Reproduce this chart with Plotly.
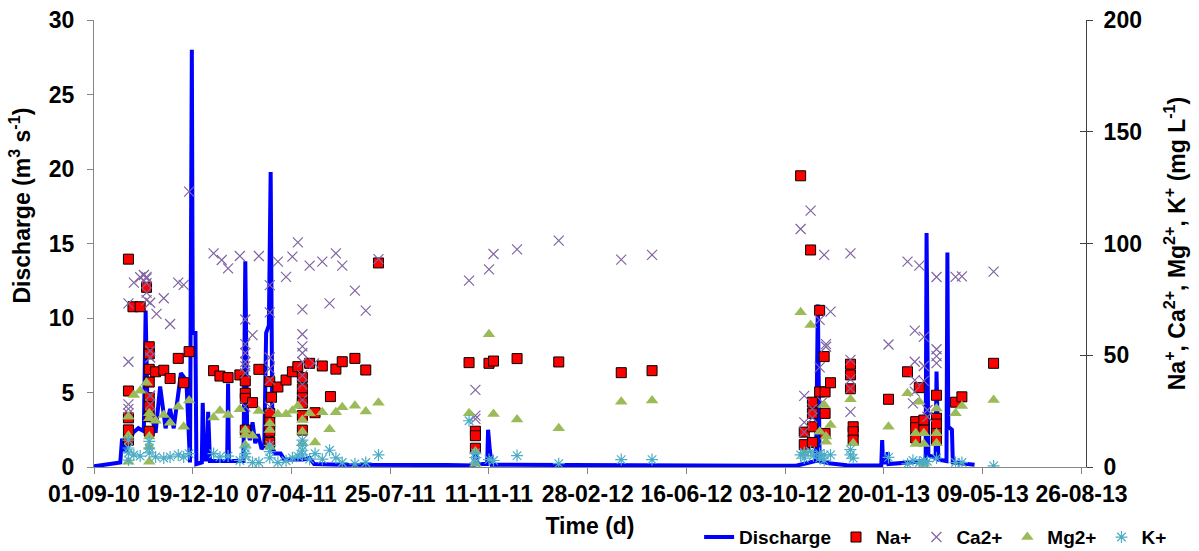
import plotly.graph_objects as go

# Daily discharge (m3/s), vertices of the hydrograph
q_dates = [
    "2010-09-01", "2010-09-30", "2010-10-02", "2010-10-06", "2010-10-10", "2010-10-14",
    "2010-10-20", "2010-10-26", "2010-10-28", "2010-10-30", "2010-11-03", "2010-11-08",
    "2010-11-13", "2010-11-19", "2010-11-24", "2010-11-28", "2010-12-06", "2010-12-12",
    "2010-12-16", "2010-12-18", "2010-12-19", "2010-12-22", "2010-12-23", "2010-12-29",
    "2010-12-30", "2011-01-01", "2011-01-04", "2011-01-05", "2011-01-07", "2011-01-26",
    "2011-01-27", "2011-01-28", "2011-02-13", "2011-02-15", "2011-02-17", "2011-02-20",
    "2011-02-23", "2011-02-26", "2011-03-01", "2011-03-05", "2011-03-08", "2011-03-10",
    "2011-03-13", "2011-03-15", "2011-03-17", "2011-03-20", "2011-03-26", "2011-03-30",
    "2011-04-20", "2011-04-27", "2011-05-02", "2011-06-01", "2011-09-25", "2011-10-26",
    "2011-10-27", "2011-10-29", "2011-11-09", "2011-11-10", "2011-11-12", "2011-11-14",
    "2012-10-15", "2012-11-06", "2012-11-08", "2012-11-10", "2012-11-20", "2012-12-10",
    "2013-01-17", "2013-01-18", "2013-01-19", "2013-01-23", "2013-01-24", "2013-01-25",
    "2013-03-07", "2013-03-08", "2013-03-10", "2013-03-18", "2013-03-19", "2013-03-21",
    "2013-03-30", "2013-03-31", "2013-04-01", "2013-04-05", "2013-04-06", "2013-04-30",
]
q_vals = [
    0.05, 0.3, 1.9, 1.0, 1.6, 2.3,
    2.6, 2.4, 10.5, 4.0, 3.6, 2.3,
    5.4, 2.6, 3.9, 2.6, 6.3, 5.8,
    0.3, 28.0, 9.0, 9.0, 0.2, 0.3,
    4.3, 0.5, 0.5, 3.7, 0.4, 0.4,
    5.6, 0.4, 0.4, 13.8, 2.6, 1.8,
    3.0, 1.6, 2.2, 1.2, 1.5, 9.0,
    9.5, 19.8, 1.2, 0.9, 0.9, 0.5,
    0.5, 0.6, 0.2, 0.15, 0.13, 0.1,
    1.3, 0.2, 0.2, 2.5, 1.1, 0.15,
    0.08, 0.4, 10.9, 0.4, 0.25, 0.12,
    0.1, 1.8, 0.3, 0.3, 1.0, 0.2,
    0.4, 15.7, 0.8, 0.6, 6.4, 0.5,
    0.4, 14.4, 2.7, 2.5, 0.3, 0.15,
]

# Sodium (mg/L)
na_dates = [
    "2010-10-09", "2010-10-09", "2010-10-09", "2010-10-09", "2010-10-09",
    "2010-10-14", "2010-10-22", "2010-10-29",
    "2010-11-01", "2010-11-01", "2010-11-01", "2010-11-01", "2010-11-01", "2010-11-01",
    "2010-11-01", "2010-11-01",
    "2010-11-08", "2010-11-17", "2010-11-24", "2010-12-03", "2010-12-09", "2010-12-15",
    "2011-01-11", "2011-01-18", "2011-01-27", "2011-02-09",
    "2011-02-15", "2011-02-15", "2011-02-15", "2011-02-15", "2011-02-23", "2011-03-02",
    "2011-03-14", "2011-03-14", "2011-03-14", "2011-03-14", "2011-03-14",
    "2011-03-16", "2011-03-23", "2011-04-01", "2011-04-08", "2011-04-14",
    "2011-04-19", "2011-04-19", "2011-04-19", "2011-04-19", "2011-04-19", "2011-04-19",
    "2011-04-27", "2011-05-03", "2011-05-11", "2011-05-20", "2011-05-26", "2011-06-02",
    "2011-06-16", "2011-06-28", "2011-07-12",
    "2011-10-20", "2011-10-27", "2011-10-27", "2011-10-27", "2011-11-11", "2011-11-16",
    "2011-12-12", "2012-01-27", "2012-04-05", "2012-05-09",
    "2012-10-20", "2012-10-24", "2012-10-24", "2012-10-31",
    "2012-11-02", "2012-11-02", "2012-11-02", "2012-11-02",
    "2012-11-10", "2012-11-10", "2012-11-15", "2012-11-16", "2012-11-16", "2012-11-16",
    "2012-11-22", "2012-12-14", "2012-12-14", "2012-12-14", "2012-12-17", "2012-12-17",
    "2012-12-17", "2013-01-25", "2013-02-15", "2013-02-24", "2013-02-24", "2013-02-24",
    "2013-02-28", "2013-03-05", "2013-03-05",
    "2013-03-19", "2013-03-19", "2013-03-19", "2013-03-19", "2013-03-19",
    "2013-04-09", "2013-04-16", "2013-05-21",
]
na_vals = [
    93, 34, 22, 16.6, 12,
    71.7, 71.7, 80.4,
    53.8, 50.6, 43.7, 38, 31, 27, 22.5, 16,
    42.6, 43.3, 39.6, 48.6, 37.7, 51.6,
    43.1, 40.7, 40.0, 41.2,
    38.5, 33, 30.7, 16.5, 28.8, 43.7,
    38.2, 24, 20, 16, 11,
    31.2, 35.8, 38.9, 42.6, 44.9,
    40, 35, 31, 28.6, 23, 16.5,
    46.4, 24.3, 45.2, 31.5, 43.8, 47.1,
    48.6, 43.4, 91.3,
    46.7, 16, 14, 8.4, 46.4, 47.4,
    48.5, 47.0, 42.2, 43.1,
    130.3, 15.6, 10, 97.1,
    29, 24, 18, 11,
    70.1, 33.6, 49.4, 33.6, 24, 15,
    37.7, 46, 41.2, 35, 18, 15.8,
    12, 30.3, 42.6, 20.3, 17.6, 13,
    35.5, 21, 16.5,
    32.1, 21.8, 19.2, 15, 12,
    29, 31.4, 46.4,
]

# Calcium (mg/L)
ca_dates = [
    "2010-10-09", "2010-10-09", "2010-10-09", "2010-10-09", "2010-10-09",
    "2010-10-15", "2010-10-22", "2010-10-26",
    "2010-10-29", "2010-10-29", "2010-10-29", "2010-10-29", "2010-10-29",
    "2010-11-02", "2010-11-02", "2010-11-02", "2010-11-02", "2010-11-02", "2010-11-02",
    "2010-11-09", "2010-11-17", "2010-11-24", "2010-12-03", "2010-12-09", "2010-12-15",
    "2011-01-11", "2011-01-20", "2011-01-27", "2011-02-09",
    "2011-02-15", "2011-02-15", "2011-02-15", "2011-02-15", "2011-02-15", "2011-02-15",
    "2011-02-15", "2011-02-23", "2011-03-02",
    "2011-03-14", "2011-03-14", "2011-03-14", "2011-03-14", "2011-03-14", "2011-03-14",
    "2011-03-23", "2011-04-01", "2011-04-08", "2011-04-14",
    "2011-04-19", "2011-04-19", "2011-04-19", "2011-04-19", "2011-04-19", "2011-04-19",
    "2011-04-19", "2011-04-19",
    "2011-04-27", "2011-05-02", "2011-05-11", "2011-05-19", "2011-05-26", "2011-06-02",
    "2011-06-16", "2011-06-28", "2011-07-12",
    "2011-10-20", "2011-10-27", "2011-10-27", "2011-10-27", "2011-11-11", "2011-11-16",
    "2011-12-12", "2012-01-27", "2012-04-05", "2012-05-09",
    "2012-10-20", "2012-10-24", "2012-10-24", "2012-10-24", "2012-10-31",
    "2012-11-02", "2012-11-02", "2012-11-10", "2012-11-10", "2012-11-13", "2012-11-15",
    "2012-11-17", "2012-11-17", "2012-11-22",
    "2012-12-14", "2012-12-14", "2012-12-14", "2012-12-14", "2012-12-14",
    "2013-01-25", "2013-02-15", "2013-02-21",
    "2013-02-23", "2013-02-23", "2013-02-23", "2013-02-23", "2013-02-28",
    "2013-03-05", "2013-03-05", "2013-03-05", "2013-03-09", "2013-03-09",
    "2013-03-19", "2013-03-19", "2013-03-19", "2013-03-19",
    "2013-04-09", "2013-04-16", "2013-05-21",
]
ca_vals = [
    73.2, 47.1, 28, 26, 24,
    82.5, 84.9, 85.9,
    85.1, 84.4, 82.2, 78, 74.7,
    73.5, 52, 49, 32, 28, 24,
    68.5, 75.5, 64, 82.5, 81.5, 123.2,
    95.6, 92.6, 88.9, 94.4,
    66, 55, 51, 47, 45, 42,
    27, 59, 94.4,
    81.4, 69.2, 49, 44, 39, 27,
    91.9, 85.1, 94.1, 100.5,
    70.5, 59.4, 54, 51, 47, 41,
    37, 30,
    90.1, 46.4, 91.9, 73.2, 95.6, 90.1,
    78.9, 70, 93,
    83.4, 34.5, 23, 21.5, 88.4, 95.3,
    97.4, 101.3, 92.8, 94.9,
    106.5, 31.8, 20, 15.6, 114.7,
    26, 22, 65.8, 44.6, 29, 94.9,
    55, 53.8, 69.5,
    95.6, 47.9, 39.2, 35.2, 24.7,
    54.8, 91.9, 28.5,
    61, 47.1, 38.9, 33.7, 90.1,
    58.2, 45.2, 38.5, 25.5, 22.5,
    85, 52.7, 49.6, 46.5,
    85.1, 85.3, 87.4,
]

# Magnesium (mg/L)
mg_dates = [
    "2010-10-09", "2010-10-09", "2010-10-09", "2010-10-15", "2010-10-22", "2010-10-29",
    "2010-11-01", "2010-11-01", "2010-11-01", "2010-11-01", "2010-11-01",
    "2010-11-08", "2010-11-17", "2010-11-24", "2010-12-03", "2010-12-09", "2010-12-15",
    "2011-01-11", "2011-01-18", "2011-01-27", "2011-02-09",
    "2011-02-15", "2011-02-15", "2011-02-15", "2011-02-23", "2011-03-02",
    "2011-03-14", "2011-03-14", "2011-03-14", "2011-03-23", "2011-04-01", "2011-04-08",
    "2011-04-14", "2011-04-19", "2011-04-19", "2011-04-19", "2011-04-27", "2011-05-03",
    "2011-05-11", "2011-05-19", "2011-05-26", "2011-06-02", "2011-06-16", "2011-06-28",
    "2011-07-12",
    "2011-10-20", "2011-10-27", "2011-10-27", "2011-11-11", "2011-11-16", "2011-12-12",
    "2012-01-27", "2012-04-05", "2012-05-09",
    "2012-10-20", "2012-10-24", "2012-10-31", "2012-11-10", "2012-11-15", "2012-11-17",
    "2012-11-17", "2012-11-22", "2012-12-14", "2012-12-17", "2013-01-25", "2013-02-15",
    "2013-02-24", "2013-02-24", "2013-02-28", "2013-03-05", "2013-03-05", "2013-03-05",
    "2013-03-19", "2013-03-19", "2013-03-19", "2013-04-09", "2013-04-16", "2013-05-21",
]
mg_vals = [
    22.5, 14, 2.4, 32.2, 34.1, 37.7,
    24, 21.8, 13.6, 9.1, 2.4,
    20.7, 23.3, 19.8, 27, 18, 29.7,
    22.2, 25.2, 23.3, 25.8,
    16.6, 14.3, 9.8, 14, 25.1,
    19.5, 16.6, 9.1, 23.6, 23.6, 25.2,
    27.3, 21, 15.8, 10.6, 24, 11,
    24.5, 16.9, 24.5, 26.7, 27.4, 24.8,
    28.8,
    24, 6.9, 1.5, 59.4, 23.7, 21.3,
    17.3, 29.2, 29.7,
    69.2, 6, 63.5, 15.8, 27.7, 13.6,
    11.3, 18.8, 30.3, 10.6, 18, 33,
    15.1, 10.3, 29.2, 15.1, 10.3, 1.5,
    26.2, 15.1, 10.6, 24, 27.3, 30,
]

# Potassium (mg/L)
k_dates = [
    "2010-10-09", "2010-10-09", "2010-10-09", "2010-10-09", "2010-10-15", "2010-10-22",
    "2010-11-01", "2010-11-01", "2010-11-01",
    "2010-11-08", "2010-11-17", "2010-11-24", "2010-12-03", "2010-12-09", "2010-12-15",
    "2011-01-11", "2011-01-18", "2011-01-27", "2011-02-09",
    "2011-02-15", "2011-02-15", "2011-02-15", "2011-02-23", "2011-03-02",
    "2011-03-14", "2011-03-14", "2011-03-14", "2011-03-23", "2011-04-01", "2011-04-08",
    "2011-04-14", "2011-04-19", "2011-04-19", "2011-04-19", "2011-04-19",
    "2011-04-27", "2011-05-03", "2011-05-11", "2011-05-19", "2011-05-26", "2011-06-02",
    "2011-06-16", "2011-06-28", "2011-07-12",
    "2011-10-20", "2011-10-27", "2011-10-27", "2011-10-27", "2011-11-11", "2011-11-16",
    "2011-12-12", "2012-01-27", "2012-04-05", "2012-05-09",
    "2012-10-20", "2012-10-24", "2012-10-24", "2012-10-31", "2012-11-03", "2012-11-10",
    "2012-11-10", "2012-11-15", "2012-11-15", "2012-11-22", "2012-12-14", "2012-12-14",
    "2012-12-17", "2013-01-25", "2013-02-15", "2013-02-21", "2013-02-28", "2013-03-05",
    "2013-03-05", "2013-03-09", "2013-03-19", "2013-04-09", "2013-04-16", "2013-05-21",
]
k_vals = [
    12, 8.5, 6.3, 3.1, 5.4, 4.9,
    11.5, 8.5, 6.3,
    4.5, 4.0, 4.5, 5.4, 4.5, 6.0,
    6.0, 4.5, 4.9, 2.9,
    6, 8.5, 4.5, 2, 2,
    9.7, 6.9, 4.1, 2, 2.8, 4.1,
    4.9, 12, 9.7, 7.5, 5.4,
    3.5, 6, 3.5, 7.5, 4.1, 2,
    1.4, 2, 5.4,
    20.7, 6.3, 4.2, 1.9, 3.3, 2.9,
    5.1, 1.5, 3.3, 3.3,
    5.4, 4, 6.5, 7, 5, 6,
    4, 5.4, 3, 5.4, 5.4, 7.8,
    4, 4.3, 1.4, 3, 2, 3,
    1.4, 2.5, 4, 2, 2, 0.5,
]

x_tick_dates = [
    "2010-09-01", "2010-12-19", "2011-04-07", "2011-07-25", "2011-11-11", "2012-02-28",
    "2012-06-16", "2012-10-03", "2013-01-20", "2013-05-09", "2013-08-26",
]
x_tick_labels = [
    "01-09-10", "19-12-10", "07-04-11", "25-07-11", "11-11-11", "28-02-12",
    "16-06-12", "03-10-12", "20-01-13", "09-05-13", "26-08-13",
]

FONT = "Arial, 'Liberation Sans', sans-serif"
AXIS_GREY = "#868686"
RIGHT_AXIS = "#404040"

fig = go.Figure()

fig.add_trace(go.Scatter(
    x=q_dates, y=q_vals, mode="lines", name="Discharge", yaxis="y",
    line=dict(color="#0000FF", width=4),
))
fig.add_trace(go.Scatter(
    x=na_dates, y=na_vals, mode="markers", name="Na+", yaxis="y2",
    marker=dict(symbol="square", size=10, color="#FF0000",
                line=dict(color="#000000", width=1)),
))
fig.add_trace(go.Scatter(
    x=ca_dates, y=ca_vals, mode="markers", name="Ca2+", yaxis="y2",
    marker=dict(symbol="x-thin-open", size=10, color="#8064A2",
                line=dict(color="#8064A2", width=1.2)),
))
fig.add_trace(go.Scatter(
    x=mg_dates, y=mg_vals, mode="markers", name="Mg2+", yaxis="y2",
    marker=dict(symbol="triangle-up", size=11, color="#9BBB59",
                line=dict(width=0)),
))
fig.add_trace(go.Scatter(
    x=k_dates, y=k_vals, mode="markers", name="K+", yaxis="y2",
    marker=dict(symbol="asterisk-open", size=10, color="#4BACC6",
                line=dict(color="#4BACC6", width=1.2)),
))
# carrier for the inner half of the right-hand tick marks
fig.add_trace(go.Scatter(
    x=[x_tick_dates[0]], y=[0], mode="markers", yaxis="y3",
    marker=dict(opacity=0), showlegend=False, hoverinfo="skip",
))

tick_font = dict(family=FONT, size=23, color="#000000", weight="bold")
title_font = dict(family=FONT, size=23, color="#000000", weight="bold")

fig.update_layout(
    width=1199, height=551,
    margin=dict(l=94, r=113, t=20, b=84, autoexpand=False),
    paper_bgcolor="white", plot_bgcolor="white",
    font=dict(family=FONT, color="#000000"),
    xaxis=dict(
        type="date", range=["2010-09-01", "2013-08-31"],
        tickmode="array", tickvals=x_tick_dates, ticktext=x_tick_labels,
        ticks="outside", ticklen=6, tickcolor=AXIS_GREY, tickwidth=1,
        showline=True, linecolor=AXIS_GREY, linewidth=1,
        showgrid=False, zeroline=False, tickfont=tick_font,
        title=dict(text="Time (d)", font=title_font, standoff=12),
    ),
    yaxis=dict(
        range=[0, 30], dtick=5, tick0=0,
        ticks="outside", ticklen=6, tickcolor=AXIS_GREY, tickwidth=1,
        showline=True, linecolor=AXIS_GREY, linewidth=1,
        showgrid=False, zeroline=False, tickfont=tick_font,
        ticklabelstandoff=8,
    ),
    yaxis2=dict(
        overlaying="y", side="right", anchor="x",
        range=[0, 200], dtick=50, tick0=0,
        ticks="outside", ticklen=6, tickcolor=RIGHT_AXIS, tickwidth=1,
        showline=True, linecolor=RIGHT_AXIS, linewidth=1,
        showgrid=False, zeroline=False, tickfont=tick_font,
        ticklabelstandoff=6,
        title=dict(text="Na<sup>+</sup>, Ca<sup>2+</sup>, Mg<sup>2+</sup>, K<sup>+</sup> (mg L<sup>-1</sup>)",
                   font=title_font, standoff=27),
    ),
    yaxis3=dict(
        overlaying="y", side="right", anchor="x",
        range=[0, 200], dtick=50, tick0=0,
        ticks="inside", ticklen=6, tickcolor=RIGHT_AXIS, tickwidth=1,
        showline=False, showgrid=False, zeroline=False, showticklabels=False,
    ),
    legend=dict(
        orientation="h", x=0.61, xanchor="left", y=-0.157, yanchor="middle",
        font=dict(family=FONT, size=19, color="#000000", weight="bold"),
        bgcolor="rgba(0,0,0,0)", itemwidth=30, tracegroupgap=0,
    ),
    annotations=[
        dict(
            text="Discharge (m<sup>3</sup> s<sup>-1</sup>)",
            xref="paper", yref="paper", x=-0.0746, y=0.585,
            xanchor="center", yanchor="middle", textangle=-90, showarrow=False,
            font=title_font,
        ),
    ],
)

fig.write_html("out.html")
